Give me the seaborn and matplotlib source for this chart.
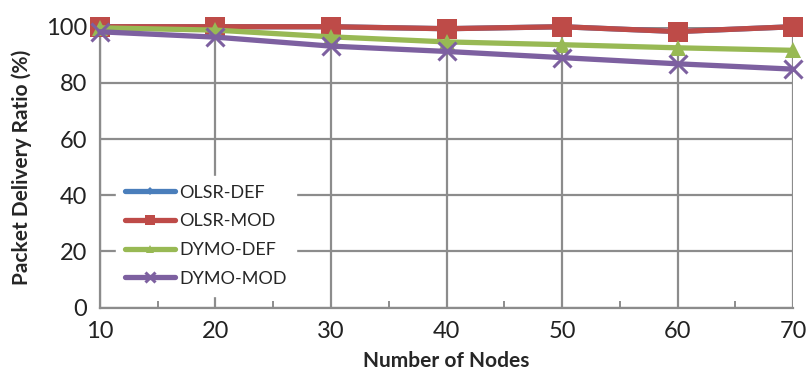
import matplotlib
matplotlib.use("Agg")
import matplotlib.pyplot as plt
import numpy as np
import pandas as pd
import seaborn as sns

nodes = [10, 20, 30, 40, 50, 60, 70]
olsr_def = [100, 100, 100, 99.3, 100, 98.3, 100]
olsr_mod = [100, 100, 100, 99.3, 100, 98.3, 100]
dymo_def = [99.6, 98.8, 96.4, 94.6, 93.6, 92.5, 91.6]
dymo_mod = [98.2, 96.3, 93.1, 91.2, 89.0, 86.8, 84.9]

series = ["OLSR-DEF", "OLSR-MOD", "DYMO-DEF", "DYMO-MOD"]
df = pd.DataFrame({"nodes": nodes * 4,
                   "pdr": olsr_def + olsr_mod + dymo_def + dymo_mod,
                   "proto": sum([[s] * len(nodes) for s in series], [])})

colors = ["#4A7EBB", "#BE4B48", "#98B954", "#7D60A0"]
markers = ["D", "s", "^", "x"]
msize = [8, 14, 12, 13]
medge = [0, 0, 0, 2.2]

sns.set_style("white")
plt.rcParams["font.family"] = ["Lato", "DejaVu Sans"]

fig, ax = plt.subplots(figsize=(8.06, 3.82), dpi=100)
fig.subplots_adjust(left=0.124, right=0.984, top=0.93, bottom=0.195)

for s, c, m, ms, me in zip(series, colors, markers, msize, medge):
    sub = df[df.proto == s]
    sns.lineplot(data=sub, x="nodes", y="pdr", ax=ax, color=c, lw=3.8,
                 marker=m, markersize=ms, markeredgewidth=me, markeredgecolor=c,
                 label=s, zorder=3, clip_on=False)

ax.set_xlim(10, 70)
ax.set_ylim(0, 100)
ax.set_xticks(nodes)
ax.set_yticks(range(0, 101, 20))
ax.set_xticks(range(15, 70, 10), minor=True)
ax.grid(True, which="major", color="#8c8c8c", lw=1.6, zorder=0)
ax.tick_params(axis="both", which="major", labelsize=17, colors="#222222", pad=6)
ax.xaxis.set_tick_params(which="minor", bottom=True, direction="in", length=5,
                         width=1.4, color="#8c8c8c")
ax.tick_params(axis="x", which="major", pad=10, length=0)
ax.tick_params(axis="y", length=0, pad=9)
for k in ["top", "right"]:
    ax.spines[k].set_visible(False)
for k in ["left", "bottom"]:
    ax.spines[k].set_color("#8c8c8c")
    ax.spines[k].set_linewidth(1.6)

ax.set_xlabel("Number of Nodes", fontsize=15, fontweight="bold", labelpad=6)
ax.set_ylabel("Packet Delivery Ratio (%)", fontsize=15, fontweight="bold", labelpad=10)

leg = ax.legend(loc="lower left", bbox_to_anchor=(0.01, 0.01), frameon=True,
                fontsize=13, handlelength=2.8, handletextpad=0.2,
                labelspacing=0.7, borderpad=0.5, markerscale=0.5)
leg.get_frame().set_facecolor("white")
leg.get_frame().set_edgecolor("white")
leg.get_frame().set_alpha(1)
leg.set_zorder(5)

fig.savefig("out.png", dpi=100)
